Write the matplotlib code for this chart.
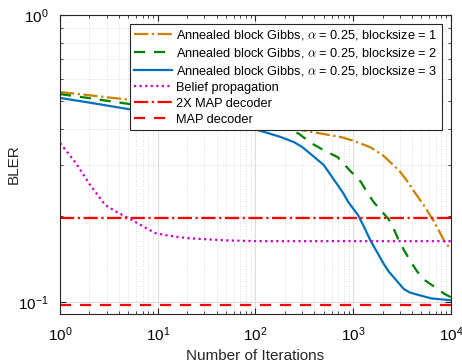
import numpy as np
import matplotlib
matplotlib.use("Agg")
import matplotlib.pyplot as plt
from matplotlib.ticker import LogLocator, NullFormatter

plt.rcParams["font.family"] = ["Liberation Sans", "DejaVu Sans"]
plt.rcParams["mathtext.fontset"] = "cm"

# Annealed block Gibbs, blocksize = 1
x_bs1 = [1, 2, 5, 10, 30, 100, 214, 400, 740, 1000, 1500, 2000, 2450, 3000, 3630,
         4300, 5250, 6760, 8510, 10000]
y_bs1 = [0.539, 0.525, 0.507, 0.49, 0.46, 0.43, 0.405, 0.39, 0.376, 0.365, 0.346,
         0.325, 0.305, 0.285, 0.262, 0.24, 0.218, 0.19, 0.164, 0.152]

# blocksize = 2
x_bs2 = [1, 2, 5, 10, 30, 100, 214, 280, 370, 500, 690, 900, 1200, 1400, 1620, 2000,
         2290, 2600, 2880, 3300, 3890, 4500, 5250, 6300, 7410, 8500, 10000]
y_bs2 = [0.53, 0.513, 0.49, 0.474, 0.448, 0.42, 0.404, 0.385, 0.358, 0.338, 0.32,
         0.29, 0.262, 0.24, 0.223, 0.205, 0.195, 0.18, 0.166, 0.152, 0.138, 0.128,
         0.12, 0.115, 0.111, 0.107, 0.104]

# blocksize = 3
x_bs3 = [1, 2, 5, 10, 30, 90, 180, 250, 300, 400, 500, 660, 800, 890, 1120, 1300,
         1500, 1800, 2050, 2300, 2600, 3300, 3800, 4600, 6300, 10000]
y_bs3 = [0.514, 0.495, 0.47, 0.453, 0.425, 0.404, 0.376, 0.36, 0.347, 0.32, 0.30,
         0.262, 0.238, 0.223, 0.201, 0.182, 0.164, 0.147, 0.136, 0.128, 0.122,
         0.111, 0.108, 0.106, 0.103, 0.1015]

# Belief propagation
x_bp = [1, 1.42, 2.03, 2.89, 3.8, 5.46, 7.4, 9.4, 13.3, 20, 50, 100, 1000, 10000]
y_bp = [0.358, 0.308, 0.256, 0.218, 0.206, 0.193, 0.182, 0.174, 0.17, 0.167, 0.164,
        0.163, 0.163, 0.163]

map2x = 0.196
map_dec = 0.098
x_range = [1, 10000]

fig = plt.figure(figsize=(4.62, 3.64), dpi=100)
ax = fig.add_axes([0.130, 0.137, 0.846, 0.822])

ax.plot(x_bs1, y_bs1, color="#CC8000", ls="-.", lw=1.6,
        label=r"Annealed block Gibbs, $\alpha$ = 0.25, blocksize = 1")
ax.plot(x_bs2, y_bs2, color="#008000", ls=(0, (5, 4)), lw=1.6,
        label=r"Annealed block Gibbs, $\alpha$ = 0.25, blocksize = 2")
ax.plot(x_bs3, y_bs3, color="#0072BD", ls="-", lw=1.6,
        label=r"Annealed block Gibbs, $\alpha$ = 0.25, blocksize = 3")
ax.plot(x_bp, y_bp, color="#CC00CC", ls=(0, (1, 1.5)), lw=1.6,
        label="Belief propagation")
ax.plot(x_range, [map2x, map2x], color="#FF0000", ls="-.", lw=1.6,
        label="2X MAP decoder")
ax.plot(x_range, [map_dec, map_dec], color="#FF0000", ls=(0, (5, 4)), lw=1.6,
        label="MAP decoder")

ax.set_xscale("log")
ax.set_yscale("log")
ax.set_xlim(1, 10000)
ax.set_ylim(0.0908, 1)

ax.yaxis.set_major_locator(LogLocator(base=10, numticks=10))
ax.yaxis.set_minor_locator(LogLocator(base=10, subs=np.arange(2, 10), numticks=10))
ax.yaxis.set_minor_formatter(NullFormatter())
ax.xaxis.set_minor_formatter(NullFormatter())

ax.grid(True, which="major", color="#dcdcdc", lw=0.8, ls="-")
ax.grid(True, which="minor", color="#d0d0d0", lw=0.6, ls=(0, (1, 2)))
ax.set_axisbelow(True)

ax.tick_params(which="both", direction="in", top=True, right=True, labelsize=11,
               color="#262626")
ax.tick_params(which="major", length=4, pad=8)
ax.tick_params(which="minor", length=2)
for s in ax.spines.values():
    s.set_color("#262626")
    s.set_linewidth(0.8)

ax.set_xlabel("Number of Iterations", fontsize=11, color="#262626")
ax.set_ylabel("BLER", fontsize=11, color="#262626")
ax.yaxis.set_label_coords(-0.1, 0.5)

leg = ax.legend(loc="upper right", bbox_to_anchor=(0.977, 0.97), fontsize=9.2,
                handlelength=3.0, handletextpad=0.3, labelspacing=0.3,
                borderpad=0.35, borderaxespad=0.0, fancybox=False, framealpha=1)
leg.get_frame().set_edgecolor("#262626")
leg.get_frame().set_linewidth(0.8)

fig.savefig("out.png", dpi=100)
